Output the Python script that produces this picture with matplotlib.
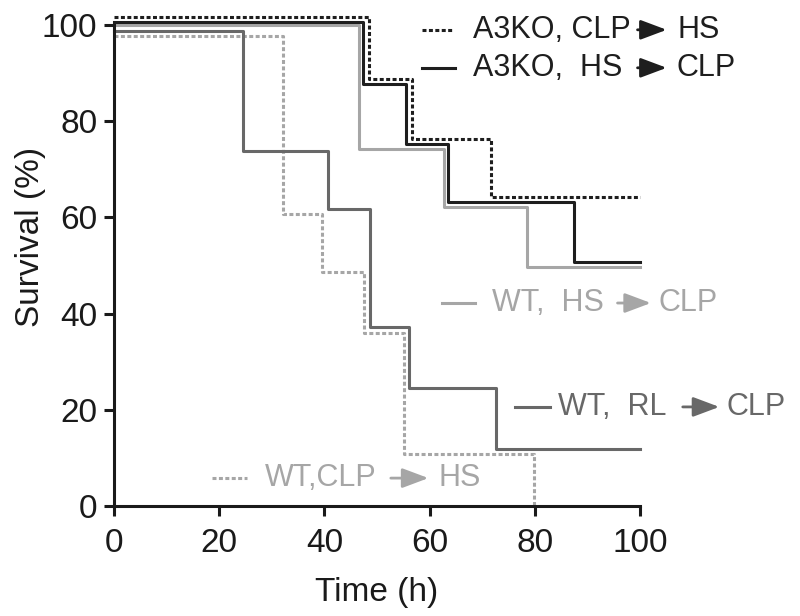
import matplotlib
matplotlib.use('Agg')
import matplotlib.pyplot as plt
from matplotlib.patches import FancyArrowPatch

plt.rcParams['font.family'] = ['Liberation Sans', 'DejaVu Sans']

# Kaplan-Meier steps (time in h, survival in %)
a3ko_clp_hs_t = [0, 48.4, 56.6, 71.7, 100]
a3ko_clp_hs_s = [101.7, 88.7, 76.4, 64.2, 64.2]

a3ko_hs_clp_t = [0, 47.4, 55.5, 63.5, 87.5, 100]
a3ko_hs_clp_s = [100.7, 87.7, 75.2, 63.3, 50.8, 50.8]

wt_hs_clp_t = [0, 46.6, 62.7, 78.6, 100]
wt_hs_clp_s = [100.0, 74.3, 62.1, 49.6, 49.6]

wt_rl_clp_t = [0, 24.5, 40.6, 48.7, 56.1, 72.7, 100]
wt_rl_clp_s = [98.75, 73.75, 61.7, 37.2, 24.6, 11.8, 11.8]

wt_clp_hs_t = [0, 32.1, 39.5, 47.6, 55.2, 79.8]
wt_clp_hs_s = [97.7, 60.8, 48.7, 36.0, 10.8, 0.0]

x_ticks = [0, 20, 40, 60, 80, 100]
y_ticks = [0, 20, 40, 60, 80, 100]

BLACK = '#1e1e1e'
LIGHT = '#a6a6a6'
DARK = '#686868'
DOT = (0, (1.3, 0.8))

fig = plt.figure(figsize=(8, 6.16), dpi=100)
ax = fig.add_axes([114 / 800, 1 - 506 / 616, (640 - 114) / 800, (506 - 25) / 616])

lw = 2.2
ax.step(wt_clp_hs_t, wt_clp_hs_s, where='post', color=LIGHT, lw=lw, ls=DOT, clip_on=False)
ax.step(wt_rl_clp_t, wt_rl_clp_s, where='post', color=DARK, lw=lw, clip_on=False)
ax.step(wt_hs_clp_t, wt_hs_clp_s, where='post', color=LIGHT, lw=lw, clip_on=False)
ax.step(a3ko_hs_clp_t, a3ko_hs_clp_s, where='post', color=BLACK, lw=lw, clip_on=False)
ax.step(a3ko_clp_hs_t, a3ko_clp_hs_s, where='post', color=BLACK, lw=lw, ls=DOT, clip_on=False)

ax.set_xlim(0, 100)
ax.set_ylim(0, 100)
ax.set_xticks(x_ticks)
ax.set_yticks(y_ticks)
for side in ['top', 'right']:
    ax.spines[side].set_visible(False)
for side in ['left', 'bottom']:
    ax.spines[side].set_linewidth(2.2)
    ax.spines[side].set_color('#1a1a1a')
ax.tick_params(axis='both', direction='out', length=7, width=2.2, color='#1a1a1a',
               labelsize=24, labelcolor='#1a1a1a')
ax.tick_params(axis='x', pad=9)
ax.tick_params(axis='y', pad=5)

ax.set_xlabel('Time (h)', fontsize=24, color='#1a1a1a')
ax.set_ylabel('Survival (%)', fontsize=24, color='#1a1a1a')
ax.xaxis.set_label_coords(0.5, -0.148)
ax.yaxis.set_label_coords(-0.13, 0.56)


# in-plot legend entries: sample line, left text, arrow, right text
def entry(y, sample, ls, color, left, left_x, arrow, right, right_x):
    ax.plot(sample, [y, y], color=color, lw=lw, ls=ls, clip_on=False)
    ax.text(left_x, y, left, fontsize=22, color=color, va='center', ha='left')
    ax.add_patch(FancyArrowPatch((arrow[0], y), (arrow[1], y),
                                 arrowstyle='-|>,head_length=0.8,head_width=0.3',
                                 mutation_scale=20, lw=2, color=color, clip_on=False))
    ax.text(right_x, y, right, fontsize=22, color=color, va='center', ha='left')


entry(99.0, [58.6, 64.3], DOT, BLACK, 'A3KO, CLP', 68.3, [99.0, 105.6], 'HS', 107.2)
entry(91.1, [58.6, 64.8], '-', BLACK, 'A3KO,  HS', 68.3, [99.0, 105.6], 'CLP', 107.0)
entry(42.2, [62.4, 68.6], '-', LIGHT, 'WT,  HS', 71.9, [95.2, 102.6], 'CLP', 103.6)
entry(20.6, [76.2, 82.9], '-', DARK, 'WT,  RL', 84.4, [107.6, 115.6], 'CLP', 116.5)
entry(5.8, [18.6, 25.3], DOT, LIGHT, 'WT,CLP', 28.7, [52.1, 60.3], 'HS', 61.6)

fig.savefig('out.png', dpi=100)
